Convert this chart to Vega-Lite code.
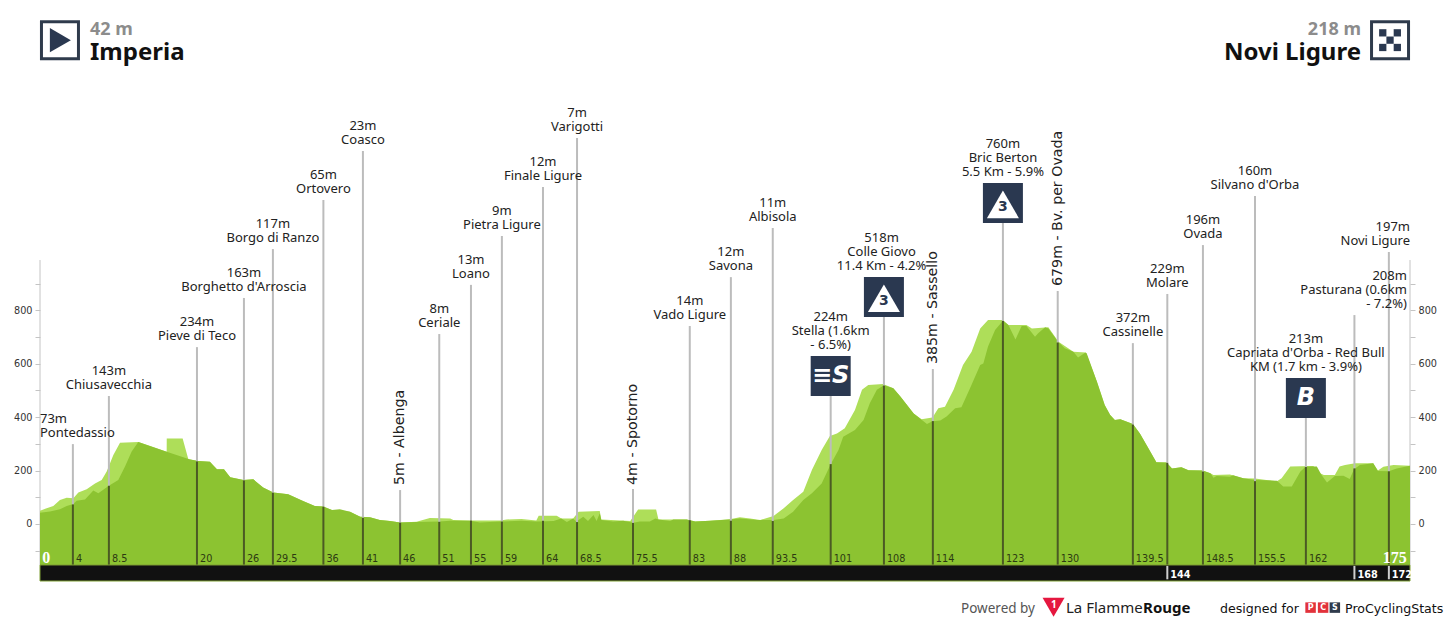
{"$schema":"https://vega.github.io/schema/vega-lite/v6.json","width":1370,"height":581,"autosize":{"type":"none"},"padding":{"left":40,"right":40,"top":0,"bottom":44},"background":"#ffffff","config":{"view":{"stroke":null}},
"datasets":{
"ridge":[{"km":0,"m":42},{"km":1.28,"m":47},{"km":2.55,"m":55},{"km":3.41,"m":67},{"km":4.26,"m":75},{"km":4.68,"m":87},{"km":5.75,"m":92},{"km":6.81,"m":125},{"km":7.45,"m":115},{"km":8.8,"m":143},{"km":10,"m":165},{"km":10.86,"m":215},{"km":11.71,"m":271},{"km":12.56,"m":307},{"km":16.18,"m":270},{"km":19.08,"m":242},{"km":20.2,"m":236},{"km":21.7,"m":233},{"km":22.6,"m":205},{"km":23.5,"m":205},{"km":24.3,"m":175},{"km":26,"m":165},{"km":27.25,"m":167},{"km":28.5,"m":137},{"km":29.8,"m":118},{"km":31.7,"m":111},{"km":33.6,"m":86},{"km":35.1,"m":67},{"km":36.2,"m":65},{"km":37.3,"m":52},{"km":38.3,"m":55},{"km":39.6,"m":46},{"km":40.9,"m":27},{"km":42.15,"m":25},{"km":43.4,"m":15},{"km":44.7,"m":11},{"km":46,"m":6},{"km":48.1,"m":7},{"km":51,"m":9},{"km":52.4,"m":12},{"km":54.9,"m":12},{"km":56.2,"m":6},{"km":58.8,"m":9},{"km":61.5,"m":12},{"km":63.4,"m":9},{"km":65.6,"m":11},{"km":66.6,"m":21},{"km":67.3,"m":7},{"km":68.1,"m":21},{"km":68.5,"m":9},{"km":69.4,"m":27},{"km":70,"m":11},{"km":70.7,"m":34},{"km":71.1,"m":11},{"km":71.5,"m":40},{"km":71.7,"m":15},{"km":73.2,"m":9},{"km":74.5,"m":12},{"km":75.8,"m":5},{"km":76.6,"m":9},{"km":77.9,"m":9},{"km":78.6,"m":21},{"km":79,"m":17},{"km":80.5,"m":11},{"km":80.9,"m":17},{"km":82.6,"m":17},{"km":83.7,"m":9},{"km":85.6,"m":12},{"km":88.1,"m":17},{"km":89.4,"m":21},{"km":91.6,"m":15},{"km":93.7,"m":15},{"km":95,"m":21},{"km":96.2,"m":46},{"km":97.5,"m":90},{"km":98.6,"m":115},{"km":99.85,"m":152},{"km":101,"m":224},{"km":102,"m":277},{"km":102.6,"m":327},{"km":104.1,"m":352},{"km":105.2,"m":389},{"km":106,"m":452},{"km":106.9,"m":502},{"km":107.8,"m":519},{"km":109,"m":508},{"km":109.9,"m":477},{"km":111.6,"m":414},{"km":113.3,"m":374},{"km":114,"m":385},{"km":115,"m":387},{"km":115.8,"m":402},{"km":116.9,"m":433},{"km":117.7,"m":437},{"km":118.8,"m":508},{"km":120.1,"m":595},{"km":120.5,"m":601},{"km":121.1,"m":664},{"km":122,"m":726},{"km":123,"m":761},{"km":123.7,"m":745},{"km":124.6,"m":691},{"km":125.4,"m":741},{"km":126,"m":741},{"km":127.1,"m":701},{"km":127.5,"m":714},{"km":128.4,"m":736},{"km":128.8,"m":732},{"km":130.1,"m":680},{"km":130.9,"m":658},{"km":132,"m":645},{"km":132.6,"m":623},{"km":133.5,"m":641},{"km":133.7,"m":639},{"km":135,"m":533},{"km":136,"m":445},{"km":136.7,"m":408},{"km":137.3,"m":389},{"km":138,"m":392},{"km":139.6,"m":374},{"km":140.5,"m":339},{"km":141.6,"m":283},{"km":142.6,"m":231},{"km":143.9,"m":230},{"km":144.6,"m":208},{"km":145.8,"m":212},{"km":146.7,"m":201},{"km":148.5,"m":200},{"km":149.5,"m":190},{"km":149.9,"m":173},{"km":150.3,"m":180},{"km":152,"m":177},{"km":152.4,"m":182},{"km":153.7,"m":171},{"km":155.2,"m":165},{"km":158,"m":162},{"km":158.8,"m":140},{"km":159.9,"m":140},{"km":161,"m":196},{"km":161.7,"m":215},{"km":162.4,"m":215},{"km":163.1,"m":215},{"km":163.7,"m":183},{"km":164.4,"m":155},{"km":165.4,"m":180},{"km":166.5,"m":181},{"km":167.3,"m":168},{"km":167.85,"m":205},{"km":168.6,"m":221},{"km":170.3,"m":227},{"km":170.9,"m":198},{"km":172.3,"m":197},{"km":173.3,"m":208},{"km":175,"m":218}],
"shade":[{"km":0,"m":50},{"km":0.85,"m":59},{"km":1.7,"m":67},{"km":2.55,"m":90},{"km":3.41,"m":98},{"km":4.26,"m":96},{"km":4.9,"m":118},{"km":5.96,"m":130},{"km":7.03,"m":152},{"km":7.88,"m":165},{"km":8.52,"m":196},{"km":9.37,"m":258},{"km":10.22,"m":304},{"km":12.56,"m":307},{"km":16.18,"m":270},{"km":16.19,"m":320},{"km":18.22,"m":320},{"km":18.95,"m":242},{"km":20.2,"m":236},{"km":21.7,"m":233},{"km":22.6,"m":205},{"km":23.5,"m":205},{"km":24.3,"m":175},{"km":26,"m":165},{"km":27.25,"m":167},{"km":28.5,"m":137},{"km":29.8,"m":118},{"km":31.7,"m":111},{"km":33.6,"m":86},{"km":35.1,"m":67},{"km":36.2,"m":65},{"km":37.3,"m":52},{"km":38.3,"m":50},{"km":39.6,"m":46},{"km":40.9,"m":27},{"km":42.15,"m":25},{"km":43.4,"m":15},{"km":44.7,"m":11},{"km":46,"m":6},{"km":48.1,"m":8},{"km":49.8,"m":22},{"km":52.4,"m":21},{"km":52.8,"m":15},{"km":54.9,"m":13},{"km":58.8,"m":13},{"km":59.6,"m":17},{"km":61.5,"m":19},{"km":63.4,"m":13},{"km":63.7,"m":31},{"km":66,"m":31},{"km":66.6,"m":21},{"km":68.1,"m":21},{"km":68.8,"m":46},{"km":71.5,"m":49},{"km":71.7,"m":17},{"km":75.4,"m":11},{"km":76.4,"m":54},{"km":78.7,"m":54},{"km":79,"m":17},{"km":82.6,"m":17},{"km":83.7,"m":9},{"km":85.6,"m":12},{"km":88.1,"m":18},{"km":89.4,"m":25},{"km":90.7,"m":21},{"km":92,"m":15},{"km":93.7,"m":30},{"km":95,"m":59},{"km":96.2,"m":90},{"km":97.5,"m":121},{"km":98.6,"m":202},{"km":99.85,"m":277},{"km":100.9,"m":329},{"km":101.8,"m":339},{"km":102.8,"m":358},{"km":104.1,"m":427},{"km":105,"m":502},{"km":105.8,"m":520},{"km":107.7,"m":524},{"km":109,"m":508},{"km":109.9,"m":477},{"km":111.6,"m":414},{"km":112.6,"m":392},{"km":114,"m":399},{"km":114.75,"m":433},{"km":115.6,"m":439},{"km":116.7,"m":502},{"km":117.9,"m":595},{"km":119,"m":645},{"km":120.1,"m":732},{"km":121.1,"m":764},{"km":123,"m":764},{"km":123.7,"m":745},{"km":126,"m":745},{"km":126.7,"m":732},{"km":128.8,"m":736},{"km":130.1,"m":682},{"km":132,"m":645},{"km":133.6,"m":642},{"km":135,"m":533},{"km":136,"m":445},{"km":136.7,"m":408},{"km":137.3,"m":389},{"km":138,"m":392},{"km":139.6,"m":374},{"km":140.5,"m":339},{"km":141.6,"m":283},{"km":142.6,"m":231},{"km":143.9,"m":230},{"km":144.6,"m":208},{"km":145.8,"m":212},{"km":146.7,"m":201},{"km":148.5,"m":200},{"km":149.5,"m":190},{"km":149.9,"m":183},{"km":152,"m":185},{"km":153.7,"m":171},{"km":155.2,"m":170},{"km":158,"m":160},{"km":158.6,"m":171},{"km":159.7,"m":215},{"km":162.65,"m":217},{"km":163.5,"m":190},{"km":164,"m":183},{"km":165.4,"m":183},{"km":166,"m":215},{"km":166.7,"m":221},{"km":168,"m":227},{"km":170.3,"m":227},{"km":170.9,"m":200},{"km":171.6,"m":214},{"km":172.9,"m":221},{"km":175,"m":218}],
"waypoints":[
{"km":4.2,"m":73,"top":299,"labelKm":0,"labelElev":351,"label":"73m\nPontedassio","kmText":"4","band":false,"vertical":false,"anchor":"left"},
{"km":8.8,"m":143,"top":479,"labelKm":8.8,"labelElev":531,"label":"143m\nChiusavecchia","kmText":"8.5","band":false,"vertical":false,"anchor":"center"},
{"km":20.05,"m":234,"top":662,"labelKm":20.05,"labelElev":714,"label":"234m\nPieve di Teco","kmText":"20","band":false,"vertical":false,"anchor":"center"},
{"km":26.05,"m":163,"top":846,"labelKm":26.05,"labelElev":898,"label":"163m\nBorghetto d'Arroscia","kmText":"26","band":false,"vertical":false,"anchor":"center"},
{"km":29.75,"m":117,"top":1029,"labelKm":29.75,"labelElev":1081,"label":"117m\nBorgo di Ranzo","kmText":"29.5","band":false,"vertical":false,"anchor":"center"},
{"km":36.2,"m":65,"top":1213,"labelKm":36.2,"labelElev":1265,"label":"65m\nOrtovero","kmText":"36","band":false,"vertical":false,"anchor":"center"},
{"km":41.25,"m":23,"top":1396,"labelKm":41.25,"labelElev":1448,"label":"23m\nCoasco","kmText":"41","band":false,"vertical":false,"anchor":"center"},
{"km":46,"m":5,"top":127,"labelKm":46,"labelElev":146,"label":"5m  -  Albenga","kmText":"46","band":false,"vertical":true,"anchor":"center"},
{"km":51,"m":8,"top":711,"labelKm":51,"labelElev":763,"label":"8m\nCeriale","kmText":"51","band":false,"vertical":false,"anchor":"center"},
{"km":55.05,"m":13,"top":895,"labelKm":55.05,"labelElev":947,"label":"13m\nLoano","kmText":"55","band":false,"vertical":false,"anchor":"center"},
{"km":59,"m":9,"top":1078,"labelKm":59,"labelElev":1130,"label":"9m\nPietra Ligure","kmText":"59","band":false,"vertical":false,"anchor":"center"},
{"km":64.25,"m":12,"top":1261,"labelKm":64.25,"labelElev":1313,"label":"12m\nFinale Ligure","kmText":"64","band":false,"vertical":false,"anchor":"center"},
{"km":68.6,"m":7,"top":1445,"labelKm":68.6,"labelElev":1497,"label":"7m\nVarigotti","kmText":"68.5","band":false,"vertical":false,"anchor":"center"},
{"km":75.75,"m":4,"top":131,"labelKm":75.75,"labelElev":146,"label":"4m  -  Spotorno","kmText":"75.5","band":false,"vertical":true,"anchor":"center"},
{"km":83,"m":14,"top":741,"labelKm":83,"labelElev":793,"label":"14m\nVado Ligure","kmText":"83","band":false,"vertical":false,"anchor":"center"},
{"km":88.25,"m":12,"top":924,"labelKm":88.25,"labelElev":976,"label":"12m\nSavona","kmText":"88","band":false,"vertical":false,"anchor":"center"},
{"km":93.6,"m":11,"top":1108,"labelKm":93.6,"labelElev":1160,"label":"11m\nAlbisola","kmText":"93.5","band":false,"vertical":false,"anchor":"center"},
{"km":101,"m":224,"top":479,"labelKm":101,"labelElev":734,"label":"224m\nStella (1.6km\n- 6.5%)","kmText":"101","band":false,"vertical":false,"anchor":"center"},
{"km":107.8,"m":518,"top":775,"labelKm":107.5,"labelElev":1029,"label":"518m\nColle Giovo\n11.4 Km - 4.2%","kmText":"108","band":false,"vertical":false,"anchor":"center"},
{"km":114.05,"m":385,"top":580,"labelKm":114.05,"labelElev":599,"label":"385m  -  Sassello","kmText":"114","band":false,"vertical":true,"anchor":"center"},
{"km":123,"m":760,"top":1127,"labelKm":123,"labelElev":1381,"label":"760m\nBric Berton\n5.5 Km - 5.9%","kmText":"123","band":false,"vertical":false,"anchor":"center"},
{"km":130,"m":679,"top":872,"labelKm":130,"labelElev":891,"label":"679m  -  Bv. per Ovada","kmText":"130","band":false,"vertical":true,"anchor":"center"},
{"km":139.6,"m":372,"top":677,"labelKm":139.6,"labelElev":729,"label":"372m\nCassinelle","kmText":"139.5","band":false,"vertical":false,"anchor":"center"},
{"km":144,"m":229,"top":861,"labelKm":144,"labelElev":913,"label":"229m\nMolare","kmText":"144","band":true,"vertical":false,"anchor":"center"},
{"km":148.55,"m":196,"top":1044,"labelKm":148.55,"labelElev":1096,"label":"196m\nOvada","kmText":"148.5","band":false,"vertical":false,"anchor":"center"},
{"km":155.2,"m":160,"top":1228,"labelKm":155.2,"labelElev":1280,"label":"160m\nSilvano d'Orba","kmText":"155.5","band":false,"vertical":false,"anchor":"center"},
{"km":161.7,"m":213,"top":397,"labelKm":161.7,"labelElev":651,"label":"213m\nCapriata d'Orba - Red Bull\nKM (1.7 km - 3.9%)","kmText":"162","band":false,"vertical":false,"anchor":"center"},
{"km":167.9,"m":208,"top":782,"labelKm":174.6,"labelElev":887,"label":"208m\nPasturana (0.6km\n- 7.2%)","kmText":"168","band":true,"vertical":false,"anchor":"right"},
{"km":172.3,"m":197,"top":1018,"labelKm":175,"labelElev":1070,"label":"197m\nNovi Ligure","kmText":"172","band":true,"vertical":false,"anchor":"right"}
]},
"encoding":{
"x":{"field":"km","type":"quantitative","scale":{"domain":[0,175],"nice":false,"zero":false},"axis":null},
"y":{"field":"m","type":"quantitative","scale":{"domain":[-213.4,1961.3],"nice":false,"zero":false},"axis":null}
},
"resolve":{"axis":{"y":"independent"}},
"layer":[
{"data":{"values":[{"km":0,"m":-153.5,"top":988}]},"mark":{"type":"rule","color":"#c4c4c4","strokeWidth":1},
"encoding":{"y":{"field":"m","type":"quantitative","scale":{"domain":[-213.4,1961.3],"nice":false,"zero":false},"axis":{"orient":"left","title":null,"domain":false,"grid":false,"values":[-100,0,100,200,300,400,500,600,700,800,900],"labelExpr":"datum.value>=0 && datum.value<=800 && datum.value%200==0 ? datum.label : ''","labelOverlap":false,"labelFont":"DejaVu Sans","labelFontSize":9.7,"labelColor":"#333333","tickColor":"#c4c4c4","tickSize":5,"labelPadding":3}},"y2":{"field":"top"}}},
{"data":{"values":[{"km":175,"m":-153.5,"top":988}]},"mark":{"type":"rule","color":"#c4c4c4","strokeWidth":1},
"encoding":{"y":{"field":"m","type":"quantitative","scale":{"domain":[-213.4,1961.3],"nice":false,"zero":false},"axis":{"orient":"right","title":null,"domain":false,"grid":false,"values":[-100,0,100,200,300,400,500,600,700,800,900],"labelExpr":"datum.value>=0 && datum.value<=800 && datum.value%200==0 ? datum.label : ''","labelOverlap":false,"labelFont":"DejaVu Sans","labelFontSize":9.7,"labelColor":"#333333","tickColor":"#c4c4c4","tickSize":5,"labelPadding":3}},"y2":{"field":"top"}}},
{"data":{"name":"shade"},"mark":{"type":"area","color":"#aede59","opacity":1},"encoding":{"y2":{"datum":-153.5}}},
{"data":{"name":"ridge"},"mark":{"type":"area","color":"#8cc331","opacity":1},"encoding":{"y2":{"datum":-153.5}}},
{"data":{"name":"waypoints"},"mark":{"type":"rule","color":"#bcbcbc","strokeWidth":2},"encoding":{"y2":{"field":"top"}}},
{"data":{"name":"waypoints"},"mark":{"type":"rule","color":"#4b5a24","strokeWidth":2},"encoding":{"y2":{"datum":-153.5}}},
{"data":{"values":[{"km":0,"km2":175,"m":-153.5,"m2":-213.4}]},"mark":{"type":"rect","color":"#111111","stroke":"#7f9f35","strokeWidth":1},"encoding":{"x2":{"field":"km2"},"y2":{"field":"m2"}}},
{"data":{"name":"waypoints"},"transform":[{"filter":"datum.band"}],"mark":{"type":"rule","color":"#cfcfcf","strokeWidth":2},"encoding":{"y":{"datum":-157,"scale":{"domain":[-213.4,1961.3],"nice":false,"zero":false},"axis":null},"y2":{"datum":-207}}},
{"data":{"name":"waypoints"},"transform":[{"filter":"!datum.band"}],"mark":{"type":"text","font":"DejaVu Sans","fontSize":9.7,"color":"#2c3a12","align":"left","baseline":"middle","dx":3},"encoding":{"y":{"datum":-131,"scale":{"domain":[-213.4,1961.3],"nice":false,"zero":false},"axis":null},"text":{"field":"kmText"}}},
{"data":{"name":"waypoints"},"transform":[{"filter":"datum.band"}],"mark":{"type":"text","font":"DejaVu Sans","fontWeight":"bold","fontSize":9.7,"color":"#ffffff","align":"left","baseline":"middle","dx":3},"encoding":{"y":{"datum":-191,"scale":{"domain":[-213.4,1961.3],"nice":false,"zero":false},"axis":null},"text":{"field":"kmText"}}},
{"data":{"values":[{"km":0.3,"m":-128,"t":"0"}]},"mark":{"type":"text","font":"Liberation Serif","fontWeight":"bold","fontSize":16,"color":"#ffffff","align":"left","baseline":"middle"},"encoding":{"text":{"field":"t"}}},
{"data":{"values":[{"km":174.6,"m":-128,"t":"175"}]},"mark":{"type":"text","font":"Liberation Serif","fontWeight":"bold","fontSize":16,"color":"#ffffff","align":"right","baseline":"middle"},"encoding":{"text":{"field":"t"}}},
{"data":{"name":"waypoints"},"transform":[{"filter":"!datum.vertical && datum.anchor=='center'"}],"mark":{"type":"text","font":"Noto Sans","fontSize":13,"color":"#222222","align":"center","baseline":"alphabetic","lineBreak":"\n","lineHeight":14,"dy":-7},"encoding":{"x":{"field":"labelKm","type":"quantitative","scale":{"domain":[0,175],"nice":false,"zero":false},"axis":null},"y":{"field":"labelElev","type":"quantitative","scale":{"domain":[-213.4,1961.3],"nice":false,"zero":false},"axis":null},"text":{"field":"label"}}},
{"data":{"name":"waypoints"},"transform":[{"filter":"datum.anchor=='left'"}],"mark":{"type":"text","font":"Noto Sans","fontSize":13,"color":"#222222","align":"left","baseline":"alphabetic","lineBreak":"\n","lineHeight":14,"dy":-7},"encoding":{"x":{"field":"labelKm","type":"quantitative","scale":{"domain":[0,175],"nice":false,"zero":false},"axis":null},"y":{"field":"labelElev","type":"quantitative","scale":{"domain":[-213.4,1961.3],"nice":false,"zero":false},"axis":null},"text":{"field":"label"}}},
{"data":{"name":"waypoints"},"transform":[{"filter":"datum.anchor=='right'"}],"mark":{"type":"text","font":"Noto Sans","fontSize":13,"color":"#222222","align":"right","baseline":"alphabetic","lineBreak":"\n","lineHeight":14,"dy":-7},"encoding":{"x":{"field":"labelKm","type":"quantitative","scale":{"domain":[0,175],"nice":false,"zero":false},"axis":null},"y":{"field":"labelElev","type":"quantitative","scale":{"domain":[-213.4,1961.3],"nice":false,"zero":false},"axis":null},"text":{"field":"label"}}},
{"data":{"name":"waypoints"},"transform":[{"filter":"datum.vertical"}],"mark":{"type":"text","font":"DejaVu Sans","fontSize":14.2,"color":"#222222","align":"left","baseline":"middle","angle":270},"encoding":{"y":{"field":"labelElev","type":"quantitative","scale":{"domain":[-213.4,1961.3],"nice":false,"zero":false},"axis":null},"text":{"field":"label"}}},
{"data":{"values":[{"km":101,"m":554},{"km":107.8,"m":850},{"km":123,"m":1201.5},{"km":161.7,"m":471.6}]},"mark":{"type":"point","shape":"square","size":1600,"filled":true,"color":"#2a3850","opacity":1}},
{"data":{"values":[{"km":107.8,"m":845},{"km":123,"m":1196.5}]},"mark":{"type":"point","shape":"triangle-up","size":1024,"filled":true,"color":"#ffffff","opacity":1}},
{"data":{"values":[{"km":107.8,"m":835,"t":"3"},{"km":123,"m":1186.5,"t":"3"}]},"mark":{"type":"text","font":"DejaVu Sans","fontWeight":"bold","fontSize":14,"color":"#2a3850","align":"center","baseline":"middle"},"encoding":{"text":{"field":"t"}}},
{"data":{"values":[{"km":101,"m":554,"t":"≡S"},{"km":161.7,"m":471.6,"t":"B"}]},"mark":{"type":"text","font":"DejaVu Sans","fontWeight":"bold","fontStyle":"italic","fontSize":24,"color":"#ffffff","align":"center","baseline":"middle"},"encoding":{"text":{"field":"t"}}},
{"data":{"values":[{"km":2.55,"m":1811},{"km":172.45,"m":1811}]},"mark":{"type":"point","shape":"square","size":1369,"filled":true,"fill":"#ffffff","stroke":"#2f3b4c","strokeWidth":3,"opacity":1}},
{"data":{"values":[{"km":2.6,"m":1811}]},"mark":{"type":"point","shape":"triangle-right","size":588,"filled":true,"color":"#2a3850","opacity":1}},
{"data":{"values":[{"km":171.52,"m":1838.4},{"km":173.38,"m":1838.4},{"km":172.45,"m":1811},{"km":171.52,"m":1783.6},{"km":173.38,"m":1783.6}]},"mark":{"type":"point","shape":"square","size":53,"filled":true,"color":"#2a3850","opacity":1}},
{"data":{"values":[{"km":6.39,"m":1830,"t":"42 m"}]},"mark":{"type":"text","font":"Noto Sans","fontWeight":"bold","fontSize":18,"color":"#8c8c8c","align":"left","baseline":"alphabetic"},"encoding":{"text":{"field":"t"}}},
{"data":{"values":[{"km":6.39,"m":1737,"t":"Imperia"}]},"mark":{"type":"text","font":"Noto Sans","fontWeight":"bold","fontSize":24,"color":"#111111","align":"left","baseline":"alphabetic"},"encoding":{"text":{"field":"t"}}},
{"data":{"values":[{"km":168.74,"m":1830,"t":"218 m"}]},"mark":{"type":"text","font":"Noto Sans","fontWeight":"bold","fontSize":18,"color":"#8c8c8c","align":"right","baseline":"alphabetic"},"encoding":{"text":{"field":"t"}}},
{"data":{"values":[{"km":168.74,"m":1737,"t":"Novi Ligure"}]},"mark":{"type":"text","font":"Noto Sans","fontWeight":"bold","fontSize":24,"color":"#111111","align":"right","baseline":"alphabetic"},"encoding":{"text":{"field":"t"}}},
{"data":{"values":[{"km":117.65,"m":-333,"t":"Powered by"}]},"mark":{"type":"text","font":"Noto Sans","fontSize":13.5,"color":"#555555","align":"left","baseline":"alphabetic"},"encoding":{"text":{"field":"t"}}},
{"data":{"values":[{"km":129.47,"m":-312}]},"mark":{"type":"point","shape":"triangle-down","size":484,"filled":true,"color":"#e5173f","opacity":1}},
{"data":{"values":[{"km":129.5,"m":-304,"t":"1"}]},"mark":{"type":"text","font":"Noto Sans","fontWeight":"bold","fontSize":10,"color":"#ffffff","align":"center","baseline":"middle"},"encoding":{"text":{"field":"t"}}},
{"data":{"values":[{"km":131.06,"m":-333,"t":"La Flamme"}]},"mark":{"type":"text","font":"Noto Sans","fontSize":15,"color":"#222222","align":"left","baseline":"alphabetic"},"encoding":{"text":{"field":"t"}}},
{"data":{"values":[{"km":140.9,"m":-333,"t":"Rouge"}]},"mark":{"type":"text","font":"Noto Sans","fontWeight":"bold","fontSize":15,"color":"#111111","align":"left","baseline":"alphabetic"},"encoding":{"text":{"field":"t"}}},
{"data":{"values":[{"km":150.73,"m":-333,"t":"designed for"}]},"mark":{"type":"text","font":"DejaVu Sans","fontSize":12.6,"color":"#111111","align":"left","baseline":"alphabetic"},"encoding":{"text":{"field":"t"}}},
{"data":{"values":[{"km":162.3,"m":-313,"c":"P"},{"km":163.9,"m":-313,"c":"C"}]},"mark":{"type":"point","shape":"square","size":110,"filled":true,"color":"#e2323b","opacity":1}},
{"data":{"values":[{"km":165.4,"m":-313,"c":"S"}]},"mark":{"type":"point","shape":"square","size":110,"filled":true,"color":"#2f3b4c","opacity":1}},
{"data":{"values":[{"km":162.3,"m":-313,"c":"P"},{"km":163.9,"m":-313,"c":"C"},{"km":165.4,"m":-313,"c":"S"}]},"mark":{"type":"text","font":"DejaVu Sans","fontWeight":"bold","fontSize":8,"color":"#ffffff","align":"center","baseline":"middle"},"encoding":{"text":{"field":"c"}}},
{"data":{"values":[{"km":166.7,"m":-333,"t":"ProCyclingStats"}]},"mark":{"type":"text","font":"DejaVu Sans","fontSize":12.6,"color":"#111111","align":"left","baseline":"alphabetic"},"encoding":{"text":{"field":"t"}}}
]}
